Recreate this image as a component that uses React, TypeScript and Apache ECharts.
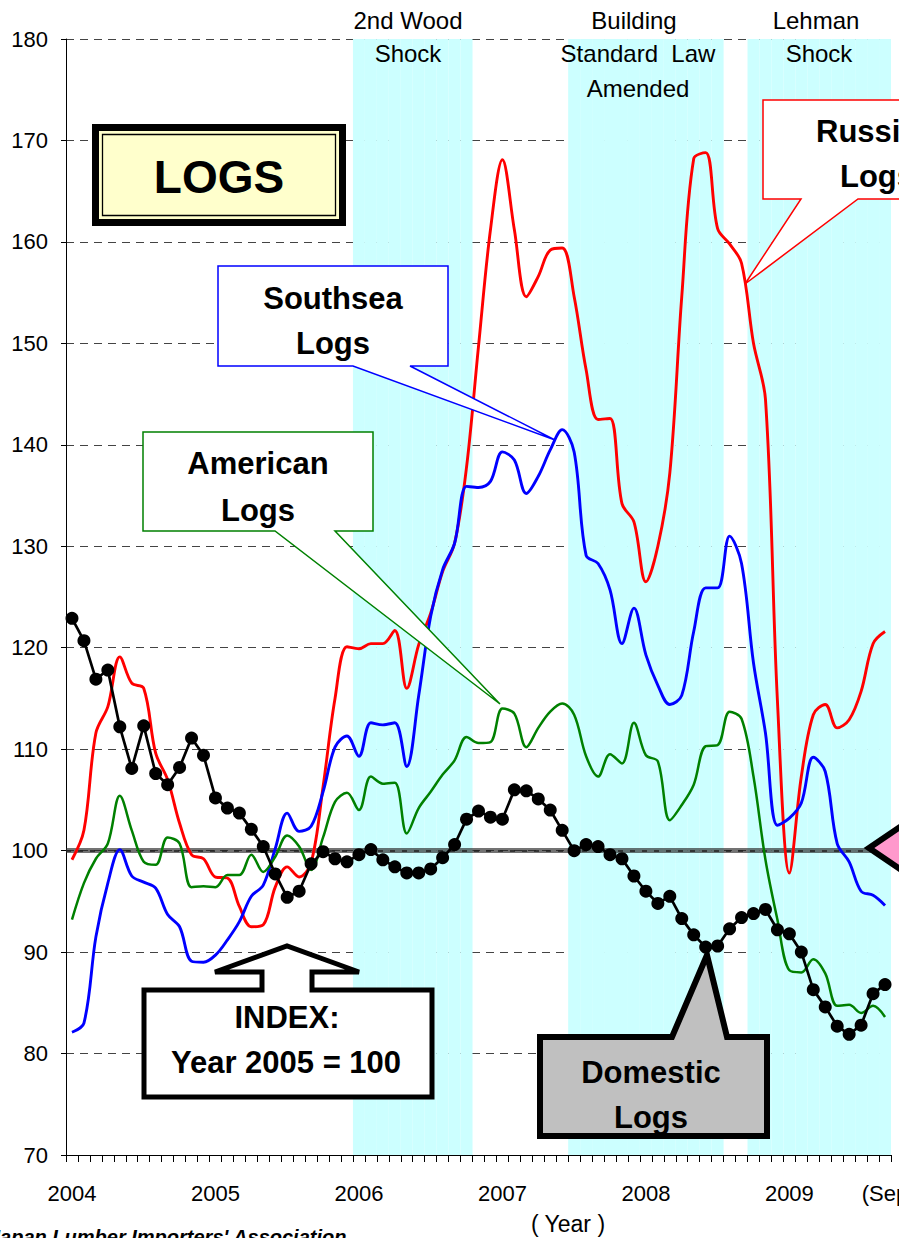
import React, { useEffect, useRef } from "react";
import * as echarts from "echarts";

// ---- categories: Jan 2004 .. Sep 2009 (monthly) ----
const startYear = 2004;
const endYear = 2009;
const endMonth = 9;
const categories: string[] = [];
for (let y = startYear; y <= endYear; y++) {
  for (let m = 1; m <= 12; m++) {
    if (y === endYear && m > endMonth) break;
    categories.push(`${y}/${m}`);
  }
}

const xTickIndex = [0, 12, 24, 36, 48, 60, 68];
const xTickLabels = ["2004", "2005", "2006", "2007", "2008", "2009", "(Sep"];

// ---- series (index, year 2005 = 100) ----
const russiaLogs = [
  99.1, 102.0, 111.6, 114.2, 119.1, 116.5, 116.0, 109.6, 107.0, 102.7, 99.6, 99.2,
  97.4, 97.3, 94.5, 92.5, 92.7, 96.4, 98.4, 97.4, 98.8, 106.3, 115.0, 120.1,
  119.9, 120.4, 120.4, 121.7, 116.0, 120.3, 123.4, 127.5, 130.3, 137.8, 149.7, 161.2,
  168.1, 161.2, 154.6, 156.6, 159.2, 159.4, 154.6, 147.4, 142.5, 142.6, 134.2, 132.4,
  126.5, 130.0, 137.2, 154.6, 168.2, 168.8, 161.3, 159.8, 157.9, 150.0, 144.5, 114.8,
  97.8, 107.3, 113.4, 114.4, 112.1, 112.9, 115.7, 120.4, 121.6,
];

const southseaLogs = [
  82.1, 83.0, 91.5, 96.8, 100.1, 97.5, 96.9, 96.3, 93.7, 92.5, 89.1, 89.0,
  89.7, 91.2, 93.0, 95.5, 96.6, 100.2, 103.7, 101.9, 102.4, 105.8, 110.2, 111.3,
  109.3, 112.6, 112.4, 112.6, 108.3, 115.3, 123.1, 127.7, 130.3, 135.9, 135.8, 136.4,
  139.3, 138.5, 135.2, 136.9, 139.5, 141.5, 139.3, 129.1, 128.3, 125.7, 120.4, 123.9,
  119.3, 116.3, 114.4, 115.3, 121.6, 125.9, 125.9, 131.0, 128.3, 118.5, 111.6, 102.5,
  103.2, 104.7, 109.2, 107.8, 100.7, 98.9, 96.0, 95.6, 94.6,
];

const americanLogs = [
  93.2, 96.8, 99.2, 100.7, 105.4, 102.0, 98.9, 98.6, 101.3, 100.7, 96.4, 96.5,
  96.4, 97.6, 97.6, 99.6, 97.9, 99.4, 101.5, 100.4, 98.1, 101.3, 104.8, 105.7,
  104.0, 107.3, 106.6, 106.7, 101.7, 104.2, 105.8, 107.5, 108.9, 111.2, 110.6, 110.7,
  114.0, 113.5, 110.2, 112.1, 113.7, 114.5, 113.4, 109.3, 107.3, 109.5, 108.6, 112.6,
  109.4, 108.8, 103.0, 104.5, 106.5, 110.3, 110.4, 113.7, 113.0, 107.3, 99.1, 93.2,
  88.2, 88.0, 89.3, 87.9, 84.7, 84.8, 84.0, 84.7, 83.6,
];

const domesticLogs = [
  122.9, 120.7, 116.9, 117.8, 112.2, 108.1, 112.3, 107.6, 106.5, 108.2, 111.1, 109.4,
  105.2, 104.2, 103.7, 102.1, 100.4, 97.7, 95.4, 96.0, 98.7, 99.9, 99.2, 98.9,
  99.6, 100.1, 99.1, 98.4, 97.8, 97.8, 98.2, 99.3, 100.6, 103.1, 103.9, 103.3,
  103.1, 106.0, 105.9, 105.1, 104.0, 102.0, 100.0, 100.6, 100.4, 99.6, 99.2, 97.5,
  96.0, 94.8, 95.5, 93.3, 91.7, 90.5, 90.6, 92.3, 93.4, 93.8, 94.2, 92.2,
  91.8, 90.0, 86.3, 84.6, 82.7, 81.9, 82.8, 85.9, 86.8,
];

// shaded event periods [first month, last month]
const woodShock = ["2006/1", "2006/10"];
const buildingLaw = ["2007/7", "2008/7"];
const lehmanShock = ["2008/10", "2009/9"];
const shadedPeriods = [woodShock, buildingLaw, lehmanShock];

const yMin = 70;
const yMax = 180;
const yStep = 10;
const baseIndex = 100;

const FONT = "'Liberation Sans', Arial, Helvetica, sans-serif";

function buildOption() {
  const shadeData = categories.map((_, i) => {
    const inside = shadedPeriods.some(
      ([a, b]) => i >= categories.indexOf(a) && i <= categories.indexOf(b)
    );
    return inside ? yMax : "-";
  });

  const txt = (
    text: string,
    x: number,
    y: number,
    size: number,
    bold = false,
    align: string = "center",
    extra: any = {}
  ) => ({
    type: "text",
    x,
    y,
    z: 110,
    silent: true,
    style: {
      text,
      fontSize: size,
      fontWeight: bold ? "bold" : "normal",
      fontFamily: FONT,
      fill: "#000",
      textAlign: align,
      textVerticalAlign: "middle",
      ...extra,
    },
  });

  const poly = (points: number[][], stroke: string, lw: number, fill: string) => ({
    type: "polygon",
    z: 100,
    silent: true,
    shape: { points },
    style: { stroke, lineWidth: lw, fill, lineJoin: "miter" },
  });

  const graphics: any[] = [
    // event titles
    txt("2nd Wood", 408, 20, 24),
    txt("Shock", 408, 53, 24),
    txt("Building", 634, 20, 24),
    txt("Standard  Law", 638, 53, 24),
    txt("Amended", 638, 88, 24),
    txt("Lehman", 816, 20, 24),
    txt("Shock", 819, 53, 24),

    // LOGS title box
    {
      type: "rect",
      z: 100,
      silent: true,
      shape: { x: 95.5, y: 127.5, width: 247, height: 95 },
      style: { fill: "#ffffcc", stroke: "#000", lineWidth: 7 },
    },
    {
      type: "rect",
      z: 101,
      silent: true,
      shape: { x: 102.5, y: 134.5, width: 233, height: 81 },
      style: { fill: "none", stroke: "#000", lineWidth: 1.3 },
    },
    txt("LOGS", 219, 177, 46, true),

    // Southsea callout
    poly(
      [[218, 266], [448, 266], [448, 366], [410, 366], [555, 440], [353, 366], [218, 366]],
      "#0000ff", 1.5, "#ffffff"
    ),
    txt("Southsea", 333, 298, 31, true),
    txt("Logs", 333, 343, 31, true),

    // American callout
    poly(
      [[143, 432], [373, 432], [373, 531], [335, 531], [500, 704], [275, 531], [143, 531]],
      "#008000", 1.5, "#ffffff"
    ),
    txt("American", 258, 463, 31, true),
    txt("Logs", 258, 510, 31, true),

    // Russia callout
    poly(
      [[763, 100], [980, 100], [980, 199], [858, 199], [745, 284], [801, 199], [763, 199]],
      "#ff0000", 1.5, "#ffffff"
    ),
    txt("Russia", 816, 131, 31, true, "left"),
    txt("Logs", 840, 176, 31, true, "left"),

    // INDEX callout
    poly(
      [[144, 990], [262, 990], [262, 972], [215, 972], [287, 946], [359, 972], [312, 972],
       [312, 990], [432, 990], [432, 1097], [144, 1097]],
      "#000", 5, "#ffffff"
    ),
    txt("INDEX:", 287, 1017, 31, true),
    txt("Year 2005 = 100", 286, 1062, 31, true),

    // Domestic callout
    poly(
      [[540, 1037], [672, 1037], [707, 955], [727, 1037], [767, 1037], [767, 1136], [540, 1136]],
      "#000", 6, "#c0c0c0"
    ),
    txt("Domestic", 651, 1072, 31, true),
    txt("Logs", 651, 1117, 31, true),

    // pink index arrow at right edge
    poly([[869, 848], [940, 800], [940, 896]], "#000", 6, "#ff99cc"),

    // axis title & source
    txt("( Year )", 568, 1224, 23),
    {
      type: "text",
      x: -11,
      y: 1227,
      z: 110,
      silent: true,
      style: {
        text: "Japan Lumber Importers' Association",
        fontSize: 20,
        fontWeight: "bold",
        fontStyle: "italic",
        fontFamily: FONT,
        fill: "#000",
        textAlign: "left",
        textVerticalAlign: "top",
      },
    },
  ];

  const lineSeries = (name: string, data: number[], color: string, width: number) => ({
    name,
    type: "line",
    data,
    smooth: 0.35,
    symbol: "none",
    z: 3,
    lineStyle: { color, width },
    itemStyle: { color },
  });

  return {
    animation: false,
    backgroundColor: "#ffffff",
    textStyle: { fontFamily: FONT },
    grid: {
      left: 66,
      right: 8,
      top: 39,
      bottom: 83,
      containLabel: false,
      outerBoundsMode: "none",
    },
    xAxis: {
      type: "category",
      data: categories,
      boundaryGap: true,
      axisLine: { show: true, lineStyle: { color: "#000", width: 1 } },
      axisTick: { show: true, interval: 0, length: 7, lineStyle: { color: "#000" } },
      splitLine: { show: false },
      axisLabel: {
        interval: (i: number) => xTickIndex.indexOf(i) >= 0,
        formatter: (_: string, i: number) => {
          const k = xTickIndex.indexOf(i);
          return k >= 0 ? xTickLabels[k] : "";
        },
        fontSize: 22,
        color: "#000",
        margin: 27,
        fontFamily: FONT,
        hideOverlap: false,
      },
    },
    yAxis: {
      type: "value",
      min: yMin,
      max: yMax,
      interval: yStep,
      axisLine: { show: true, lineStyle: { color: "#000", width: 1 } },
      axisTick: { show: true, length: 5, lineStyle: { color: "#000" } },
      splitLine: { show: true, lineStyle: { color: "#444", width: 1, type: [8, 6] } },
      axisLabel: { fontSize: 22, color: "#000", margin: 18, fontFamily: FONT },
    },
    series: [
      {
        name: "events",
        type: "bar",
        data: shadeData,
        barCategoryGap: "0%",
        barGap: "0%",
        silent: true,
        z: 1,
        itemStyle: { color: "#ccffff" },
        markLine: {
          silent: true,
          symbol: "none",
          label: { show: false },
          z: 2,
          data: [
            { yAxis: baseIndex, lineStyle: { color: "rgba(40,40,40,0.65)", width: 5, type: "solid" } },
            { yAxis: baseIndex, lineStyle: { color: "#222", width: 1.5, type: [5, 7] } },
          ],
        },
      },
      lineSeries("Russia Logs", russiaLogs, "#ff0000", 2.9),
      lineSeries("Southsea Logs", southseaLogs, "#0000ff", 2.9),
      lineSeries("American Logs", americanLogs, "#008000", 2.5),
      {
        name: "Domestic Logs",
        type: "line",
        data: domesticLogs,
        smooth: false,
        symbol: "circle",
        symbolSize: 13,
        showAllSymbol: true,
        z: 4,
        lineStyle: { color: "#000", width: 2.7 },
        itemStyle: { color: "#000" },
      },
    ],
    graphic: { elements: graphics },
  };
}

export default function App() {
  const ref = useRef<HTMLDivElement>(null);
  useEffect(() => {
    if (!ref.current) return;
    const chart = echarts.init(ref.current, null, { renderer: "svg" });
    chart.setOption(buildOption() as any);
    return () => chart.dispose();
  }, []);
  return (
    <div
      ref={ref}
      style={{ position: "absolute", left: 0, top: 0, width: 899, height: 1238, overflow: "hidden" }}
    />
  );
}
